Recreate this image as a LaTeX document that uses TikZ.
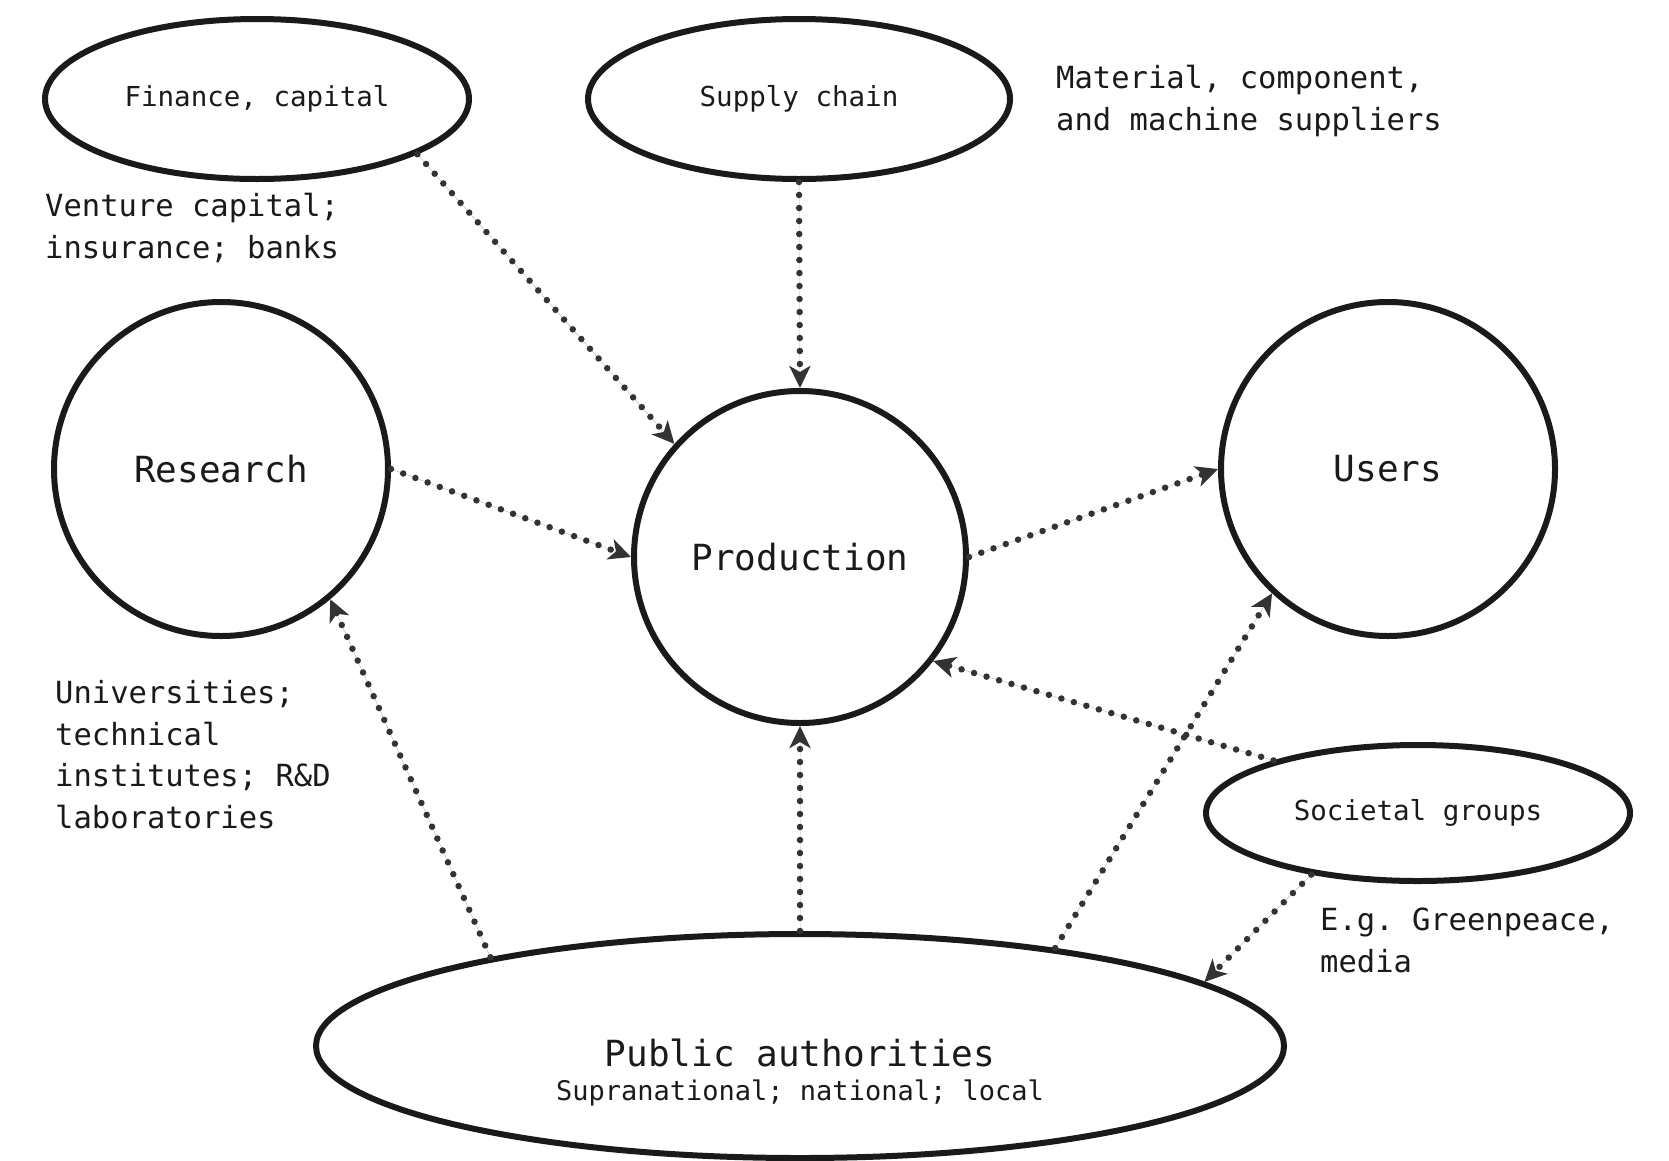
\documentclass[tikz,border=0pt]{standalone}
\usepackage{fontspec}
\setmonofont{DejaVu Sans Mono}
\usetikzlibrary{arrows.meta,shapes.geometric}
\definecolor{ink}{HTML}{1A1A1A}
\definecolor{dotc}{HTML}{333333}

\begin{document}
\begin{tikzpicture}[x=1pt,y=-1pt,>={Stealth[length=22pt,width=21pt,inset=6pt]},
  oval/.style={ellipse,draw=ink,line width=6pt,inner sep=0pt},
  ring/.style={circle,draw=ink,line width=6pt,inner sep=0pt,minimum size=334pt},
  link/.style={->,draw=dotc,fill=dotc,line width=6.5pt,line cap=round,dash pattern=on 0pt off 13pt},
  small/.style={font=\ttfamily\fontsize{27.5}{33}\selectfont,text=ink},
  big/.style={font=\ttfamily\fontsize{36}{43}\selectfont,text=ink},
  note/.style={font=\ttfamily\fontsize{30.5}{41.5}\selectfont,text=ink,align=left,anchor=base west,inner sep=0pt}]
  \useasboundingbox (0,0) rectangle (1669,1160);

  \node[oval,small,minimum width=424pt,minimum height=160pt] (fin) at (257,99) {Finance, capital};
  \node[oval,small,minimum width=422pt,minimum height=160pt] (sup) at (799,99) {Supply chain};
  \node[ring,big] (res) at (221,469) {Research};
  \node[ring,big,minimum size=332pt] (prod) at (800,557) {Production};
  \node[ring,big] (usr) at (1388,469) {Users};
  \node[oval,small,minimum width=424pt,minimum height=136pt] (soc) at (1418,813) {Societal groups};
  \node[oval,minimum width=968pt,minimum height=224pt] (pub) at (800,1046) {};
  \node[big] (pubname) at (800,1053) {Public authorities};
  \node[small,font=\ttfamily\fontsize{27}{33}\selectfont] (publevel) at (800,1093) {Supranational; national; local};

  \node[note] (supnote) at (1056,130) {Material, component,\\and machine suppliers};
  \node[note] (finnote) at (45,258) {Venture capital;\\insurance; banks};
  \node[note] (resnote) at (55,828) {Universities;\\technical\\institutes; R\&D\\laboratories};
  \node[note] (socnote) at (1320,972) {E.g. Greenpeace,\\media};

  \draw[link] (fin.-19) -- (prod.138);
  \draw[link] (sup.south) -- (prod.north);
  \draw[link] (res.east) -- (prod.west);
  \draw[link] (prod.east) -- (usr.west);
  \draw[link] (pub.164) -- (res.-50);
  \draw[link] (pub.north) -- (prod.south);
  \draw[link] (pub.21) -- (usr.-133);
  \draw[link] (soc.160) -- (prod.-38);
  \draw[link] (soc.-150) -- (pub.9);
\end{tikzpicture}
\end{document}
